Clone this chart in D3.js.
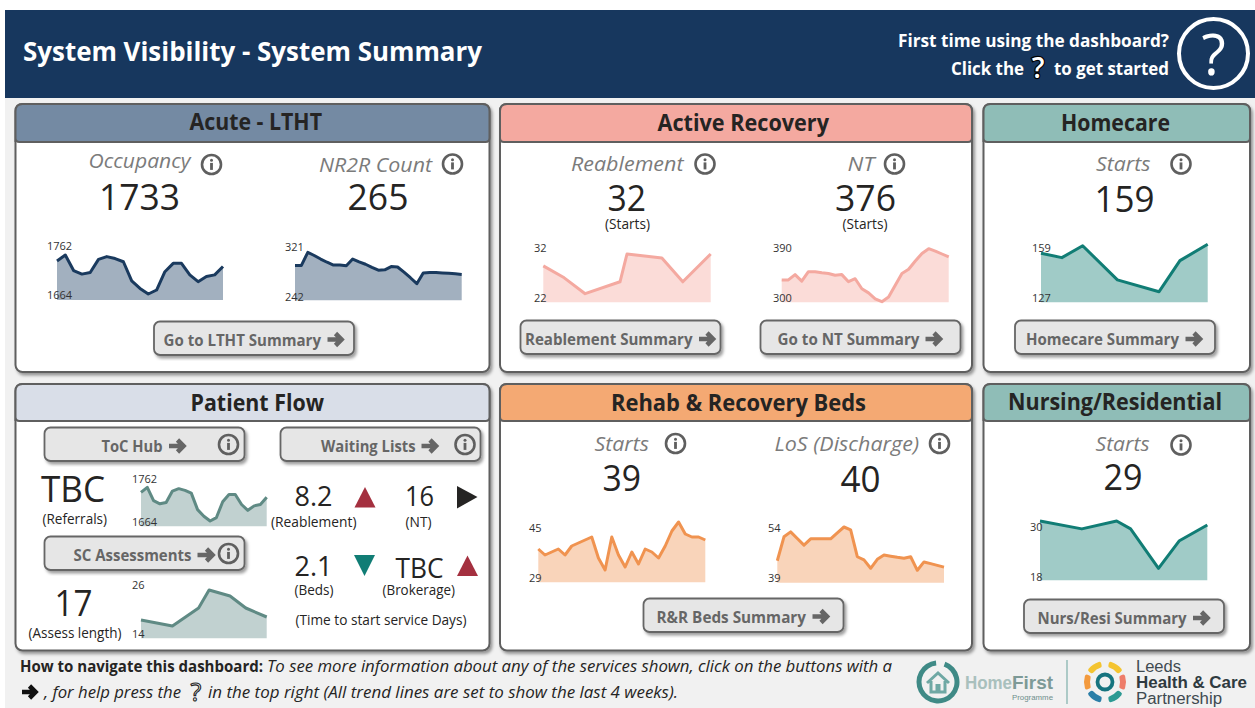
<!DOCTYPE html>
<html>
<head>
<meta charset="utf-8">
<title>System Visibility - System Summary</title>
<script src="https://cdn.jsdelivr.net/npm/d3@7"></script>
<style>
  html, body { margin: 0; padding: 0; background: #fff; overflow: hidden; }
  svg { display: block; font-family: "Open Sans", sans-serif; }
</style>
</head>
<body>
<div id="chart"></div>
<script>
// Trend values (last 4 weeks, day numbers where days are skipped)
const occupancyValues = [1747, 1762, 1723, 1714, 1718, 1751, 1758, 1753, 1745, 1697, 1678, 1664, 1674, 1720, 1741, 1741, 1712, 1695, 1708, 1712, 1733];
const nr2rValues = [288, 288, 321, 313, 304, 296, 289, 289, 287, 304, 297, 291, 283, 276, 277, 285, 284, 271, 257, 242, 269, 270, 270, 269, 268, 267, 265];
const reablementDays = [0, 3, 6, 11, 12, 17, 20, 24];
const reablementValues = [29, 26, 22, 25, 32, 31, 25, 32];
const ntValues = [337, 337, 346, 335, 351, 351, 349, 348, 345, 346, 334, 339, 322, 315, 305, 300, 308, 328, 348, 355, 369, 382, 390, 386, 381, 376];
const homecareDays = [0, 3, 6, 11, 17, 20, 24];
const homecareValues = [153, 150, 158, 135, 127, 148, 159];
const assessDays = [0, 6, 11, 13, 17, 20, 24];
const assessValues = [16, 14, 20, 26, 24, 20, 17];
const rrStartsValues = [36, 34, 35, 36, 34, 37, 38, 39, 40, 33, 29, 40, 34, 30, 35, 31, 36, 35, 33, 37, 42, 45, 41, 40, 40, 39];
const rrLosValues = [42.3, 50.6, 52.3, 50, 47.7, 49.9, 49.9, 49.9, 49.9, 52, 54, 53, 43.7, 42.6, 39.7, 42.8, 44.3, 43.9, 43.5, 43.2, 43.7, 39, 41.9, 41.3, 40.7, 40.1];
const nursingDays = [0, 6, 11, 13, 17, 20, 24];
const nursingValues = [30, 28, 30, 28, 18, 25, 29];

// Tick labels shown next to each trend [low, high]
const occupancyTicks = [1664, 1762];
const nr2rTicks = [242, 321];
const reablementTicks = [22, 32];
const ntTicks = [300, 390];
const homecareTicks = [127, 159];
const assessTicks = [14, 26];
const rrStartsTicks = [29, 45];
const rrLosTicks = [39, 54];
const nursingTicks = [18, 30];

const width = 1255;
const height = 708;
const darkText = "#252423";
const greyText = "#666";

const svg = d3.select("#chart")
  .append("svg")
  .attr("width", width)
  .attr("height", height);

const shadow = svg.append("defs").append("filter")
  .attr("id", "shadow")
  .attr("x", "-5%").attr("y", "-10%")
  .attr("width", "110%").attr("height", "125%");
shadow.append("feDropShadow")
  .attr("dx", 2).attr("dy", 2.5)
  .attr("stdDeviation", 1.8)
  .attr("flood-color", "#000")
  .attr("flood-opacity", 0.38);

// Text stretched between two x positions so it lines up with the picture
function label(t, x0, x1, base, size, opts = {}) {
  return svg.append("text")
    .attr("x", x0)
    .attr("y", base)
    .attr("textLength", x1 - x0)
    .attr("lengthAdjust", "spacingAndGlyphs")
    .attr("font-size", size)
    .attr("font-family", opts.family || null)
    .attr("font-weight", opts.weight || 400)
    .attr("font-style", opts.italic ? "italic" : "normal")
    .attr("fill", opts.fill || darkText)
    .text(t);
}

// Page background and top banner
svg.append("rect").attr("x", 5).attr("y", 10).attr("width", width - 5).attr("height", height - 10).attr("fill", "#f1f1f1");
svg.append("rect").attr("x", 5).attr("y", 10).attr("width", width - 5).attr("height", 88).attr("fill", "#17375e");
label("System Visibility - System Summary", 23, 482, 61, 27, { weight: 700, fill: "#fff" });
label("First time using the dashboard?", 898, 1169, 47, 17.5, { weight: 700, fill: "#fff" });
label("Click the", 951, 1024, 75, 17.5, { weight: 700, fill: "#fff" });
label("to get started", 1054, 1169, 75, 17.5, { weight: 700, fill: "#fff" });
svg.append("text").attr("x", 1038).attr("y", 78).attr("text-anchor", "middle")
  .attr("font-size", 28).attr("font-weight", 600).attr("fill", "#fff").attr("stroke", "#000").attr("stroke-width", 2.4)
  .attr("paint-order", "stroke").text("?");
svg.append("circle").attr("cx", 1213.5).attr("cy", 53.5).attr("r", 34.5)
  .attr("fill", "none").attr("stroke", "#fff").attr("stroke-width", 4);
svg.append("text").attr("x", 1213.5).attr("y", 75).attr("text-anchor", "middle")
  .attr("font-size", 56).attr("fill", "#fff").text("?");

// Cards
const cards = [
  { title: "Acute - LTHT", x: 15.5, y: 104, w: 474, h: 268, head: 38, fill: "#748aa3", tx0: 189.5, tx1: 322, base: 129.5 },
  { title: "Active Recovery", x: 500, y: 104, w: 472, h: 268, head: 38, fill: "#f4a9a0", tx0: 657.5, tx1: 829, base: 131 },
  { title: "Homecare", x: 983.5, y: 104, w: 266.5, h: 268, head: 38, fill: "#8fbdb7", tx0: 1061, tx1: 1170, base: 131 },
  { title: "Patient Flow", x: 15.5, y: 384, w: 474, h: 266.5, head: 37, fill: "#d9dee8", tx0: 190.5, tx1: 324, base: 411 },
  { title: "Rehab & Recovery Beds", x: 500, y: 384, w: 472, h: 266.5, head: 37, fill: "#f4a973", tx0: 611, tx1: 866, base: 411 },
  { title: "Nursing/Residential", x: 983.5, y: 384, w: 266.5, h: 266.5, head: 37, fill: "#8fbdb7", tx0: 1008, tx1: 1222, base: 409.5 }
];

cards.forEach(c => {
  svg.append("rect").attr("x", c.x).attr("y", c.y).attr("width", c.w).attr("height", c.h).attr("rx", 7)
    .attr("fill", "#fff").attr("stroke", "#5f5f5f").attr("stroke-width", 2).attr("filter", "url(#shadow)");
  svg.append("path")
    .attr("d", `M${c.x},${c.y + c.head} V${c.y + 7} Q${c.x},${c.y} ${c.x + 7},${c.y} H${c.x + c.w - 7} Q${c.x + c.w},${c.y} ${c.x + c.w},${c.y + 7} V${c.y + c.head - 4} Q${c.x + c.w},${c.y + c.head} ${c.x + c.w - 4},${c.y + c.head} H${c.x + 4} Q${c.x},${c.y + c.head} ${c.x},${c.y + c.head - 4}Z`)
    .attr("fill", c.fill).attr("stroke", "#5f5f5f").attr("stroke-width", 2);
  label(c.title, c.tx0, c.tx1, c.base, 23, { weight: 700 });
});

// Sparklines: values through x/y scales, ticks through an axis on their own label scale
const sparks = [
  { values: occupancyValues, ticks: occupancyTicks, x: [57, 223], y: [294, 255], base: 300, labelX: 47, labelY: [295, 246], line: "#1a3a5e", area: "#a2b0bf" },
  { values: nr2rValues, ticks: nr2rTicks, x: [295, 461.7], y: [283.7, 252.3], base: 300.3, labelX: 285, labelY: [297, 247], line: "#1a3a5e", area: "#a2b0bf" },
  { values: reablementValues, days: reablementDays, ticks: reablementTicks, x: [543.3, 710.7], y: [293.7, 254], base: 302.3, labelX: 534, labelY: [298, 248], line: "#f4a9a0", area: "#fbdcd8" },
  { values: ntValues, ticks: ntTicks, x: [781.7, 948.7], y: [301.7, 248.7], base: 302.3, labelX: 773, labelY: [298, 248], line: "#f4a9a0", area: "#fbdcd8" },
  { values: homecareValues, days: homecareDays, ticks: homecareTicks, x: [1041, 1207.7], y: [291.7, 244.3], base: 302.3, labelX: 1032, labelY: [298, 248], line: "#117d75", area: "#a0cbc7" },
  { values: occupancyValues, ticks: occupancyTicks, x: [141, 266.7], y: [521, 487.3], base: 526.3, labelX: 132, labelY: [522, 479], line: "#5f8a84", area: "#c1d1d0" },
  { values: assessValues, days: assessDays, ticks: assessTicks, x: [141, 266.7], y: [626, 590], base: 638.3, labelX: 132, labelY: [634, 585], line: "#5f8a84", area: "#c1d1d0" },
  { values: rrStartsValues, ticks: rrStartsTicks, x: [538.3, 705.3], y: [570, 522], base: 582.3, labelX: 529, labelY: [578, 527.5], line: "#f09350", area: "#f9d4ba" },
  { values: rrLosValues, ticks: rrLosTicks, x: [777.3, 944], y: [570.3, 527], base: 582.7, labelX: 768, labelY: [578, 528], line: "#f09350", area: "#f9d4ba" },
  { values: nursingValues, days: nursingDays, ticks: nursingTicks, x: [1040, 1207.3], y: [568.3, 521], base: 580.3, labelX: 1030, labelY: [577, 527], line: "#117d75", area: "#a0cbc7" }
];

sparks.forEach(s => {
  const days = s.days || d3.range(s.values.length);
  const xScale = d3.scaleLinear().domain([days[0], days[days.length - 1]]).range(s.x);
  const yScale = d3.scaleLinear().domain(s.ticks).range(s.y);
  const rows = s.values.map((v, i) => ({ day: days[i], value: v }));

  svg.append("path").datum(rows).attr("fill", s.area)
    .attr("d", d3.area().x(d => xScale(d.day)).y0(s.base).y1(d => yScale(d.value)));
  svg.append("path").datum(rows).attr("fill", "none").attr("stroke", s.line).attr("stroke-width", 3)
    .attr("stroke-linejoin", "round")
    .attr("d", d3.line().x(d => xScale(d.day)).y(d => yScale(d.value)));

  const labelScale = d3.scaleLinear().domain(s.ticks).range(s.labelY);
  const axis = svg.append("g")
    .attr("transform", `translate(${s.labelX}, 0)`)
    .call(d3.axisLeft(labelScale).tickValues(s.ticks).tickSize(0).tickPadding(0).tickFormat(d3.format("d")));
  axis.select(".domain").remove();
  axis.selectAll("text")
    .attr("text-anchor", "start")
    .attr("font-family", '"Open Sans", sans-serif')
    .attr("font-size", 11)
    .attr("fill", "#333");
});

// KPI titles
const kpiTitles = [
  ["Occupancy", 88.5, 190.5, 168], ["NR2R Count", 319, 432, 171.5],
  ["Reablement", 571, 683.5, 171], ["NT", 847.5, 874.5, 171],
  ["Starts", 1096, 1150.5, 170.5], ["Starts", 594.5, 649, 450.5],
  ["LoS (Discharge)", 774.5, 919, 451], ["Starts", 1095.5, 1149.5, 451]
];
kpiTitles.forEach(k => label(k[0], k[1], k[2], k[3], 20, { italic: true, weight: 400, fill: "#7b7b7b" }));

// Big numbers
const bigNumbers = [
  ["1733", 99, 180, 209.5, 36], ["265", 347.5, 408.5, 209.5, 36],
  ["32", 607.5, 646, 210.5, 36], ["376", 835, 896, 210.5, 36],
  ["159", 1094.5, 1154.5, 212, 36], ["39", 602.5, 641, 490.5, 36],
  ["40", 840.5, 880.5, 491.5, 36], ["29", 1103.5, 1142.5, 490, 36],
  ["TBC", 41, 105, 501.5, 36], ["17", 54.5, 92.5, 615.5, 36],
  ["8.2", 294.5, 332.5, 506, 28], ["16", 405, 434, 506, 28],
  ["2.1", 294.5, 332.5, 575.5, 28], ["TBC", 395.5, 443.5, 577.5, 28]
];
bigNumbers.forEach(n => label(n[0], n[1], n[2], n[3], n[4], { weight: 400 }));

// Small captions
const captions = [
  ["(Starts)", 605, 650, 229], ["(Starts)", 842.5, 887.5, 229],
  ["(Referrals)", 42.5, 107, 524], ["(Assess length)", 28.5, 121.5, 637.5],
  ["(Reablement)", 271, 356.5, 527], ["(NT)", 405.5, 431.5, 527],
  ["(Beds)", 294.5, 333.5, 595], ["(Brokerage)", 382.5, 455, 595],
  ["(Time to start service Days)", 295.5, 466.5, 625]
];
captions.forEach(c => label(c[0], c[1], c[2], c[3], 14));

function arrow(x0, x1, cy, color) {
  const headBack = x1 - 8.5;
  svg.append("path")
    .attr("d", `M${x0},${cy} H${x1 - 3} M${headBack},${cy - 6} L${x1 - 2.5},${cy} L${headBack},${cy + 6}`)
    .attr("fill", "none").attr("stroke", color).attr("stroke-width", 4.6);
}

// Buttons
const buttons = [
  { t: "Go to LTHT Summary", x: 154, y: 321.5, tx0: 163.5, tx1: 321, base: 345.5, ax0: 327.5, ax1: 344 },
  { t: "Reablement Summary", x: 520.5, y: 320.5, tx0: 525, tx1: 692.5, base: 345, ax0: 699, ax1: 715.5 },
  { t: "Go to NT Summary", x: 760.5, y: 320.5, tx0: 777.5, tx1: 919.5, base: 345, ax0: 925.5, ax1: 942.5 },
  { t: "Homecare Summary", x: 1015, y: 320.5, tx0: 1026, tx1: 1179, base: 345, ax0: 1185.5, ax1: 1202.5 },
  { t: "ToC Hub", x: 44.5, y: 427.5, tx0: 101.5, tx1: 162.5, base: 452, ax0: 169, ax1: 186 },
  { t: "Waiting Lists", x: 280.5, y: 427.5, tx0: 321, tx1: 415.5, base: 452, ax0: 421.5, ax1: 438.5 },
  { t: "SC Assessments", x: 44.5, y: 536.5, tx0: 73.5, tx1: 191.5, base: 561, ax0: 197.5, ax1: 215 },
  { t: "R&R Beds Summary", x: 643.5, y: 598.5, tx0: 656.5, tx1: 806, base: 622.5, ax0: 812.5, ax1: 829.5 },
  { t: "Nurs/Resi Summary", x: 1024, y: 599.5, tx0: 1037.5, tx1: 1186.5, base: 624, ax0: 1193, ax1: 1210 }
];
buttons.forEach(b => {
  svg.append("rect").attr("x", b.x).attr("y", b.y).attr("width", 200).attr("height", 33.5).attr("rx", 6)
    .attr("fill", "#e6e6e6").attr("stroke", "#666").attr("stroke-width", 1.8).attr("filter", "url(#shadow)");
  label(b.t, b.tx0, b.tx1, b.base, 16, { weight: 700, fill: greyText });
  arrow(b.ax0, b.ax1, b.base - 6, greyText);
});

// Info icons
const infoIcons = [
  [211.5, 164.5], [452.5, 164], [705, 164], [894.5, 164], [1181, 164],
  [675.5, 443.5], [939.5, 443.5], [1181, 445], [228.5, 444.5], [465, 444.5], [228.5, 553.5]
];
infoIcons.forEach(p => {
  const g = svg.append("g").attr("transform", `translate(${p[0]},${p[1]})`);
  g.append("circle").attr("r", 9.5).attr("fill", "none").attr("stroke", "#5f5f5f").attr("stroke-width", 2.6);
  g.append("circle").attr("cy", -4.2).attr("r", 1.5).attr("fill", "#5f5f5f");
  g.append("rect").attr("x", -1.4).attr("y", -1.6).attr("width", 2.8).attr("height", 7).attr("fill", "#5f5f5f");
});

// Direction markers
const markers = [
  { pts: [[354.5, 507.5], [365, 487], [375.5, 507.5]], fill: "#a4303f" },
  { pts: [[457, 486], [477.5, 497], [457, 508.5]], fill: darkText },
  { pts: [[354, 555], [375, 555], [364.5, 576]], fill: "#117d75" },
  { pts: [[457, 576], [467.5, 555.5], [478, 576]], fill: "#a4303f" }
];
markers.forEach(m => svg.append("path").attr("d", d3.line()(m.pts) + "Z").attr("fill", m.fill));

// Footer
label("How to navigate this dashboard:", 20, 263, 672, 16, { weight: 700 });
label("To see more information about any of the services shown, click on the buttons with a", 267, 892, 672, 16, { italic: true });
arrow(22, 38, 692, "#111");
label(", for help press the", 44, 181, 698, 16, { italic: true });
svg.append("text").attr("x", 196).attr("y", 701).attr("text-anchor", "middle")
  .attr("font-size", 25).attr("fill", "#fff").attr("stroke", "#222").attr("stroke-width", 1.1).text("?");
label("in the top right (All trend lines are set to show the last 4 weeks).", 208, 678, 698, 16, { italic: true });

// HomeFirst logo
const logoFont = '"Liberation Sans", sans-serif';
const homeArc = d3.arc().innerRadius(16.5).outerRadius(21.5);
const homeLogo = svg.append("g").attr("transform", "translate(938,682)");
homeLogo.append("path").attr("fill", "#3f8a86")
  .attr("d", homeArc({ startAngle: 0.35, endAngle: 2 * Math.PI - 0.1 }));
homeLogo.append("path").attr("fill", "none").attr("stroke", "#6fa8a4").attr("stroke-width", 3)
  .attr("d", "M-11,1 L0,-9 L11,1 M-7,-1 V10 H7 V-1");
homeLogo.append("rect").attr("x", -2.5).attr("y", 2).attr("width", 5).attr("height", 8).attr("fill", "#6fa8a4");
label("Home", 965, 1012, 689, 19, { fill: "#a9c0bd", weight: 700, family: logoFont });
label("First", 1012, 1053, 689, 19, { fill: "#7d9a97", weight: 700, family: logoFont });
label("Programme", 1012, 1053, 700, 8, { fill: "#6f8f8c", family: logoFont });
svg.append("line").attr("x1", 1067).attr("x2", 1067).attr("y1", 660).attr("y2", 704)
  .attr("stroke", "#7fb0ab").attr("stroke-width", 1.2);

// Leeds partnership mark
const leedsLogo = svg.append("g").attr("transform", "translate(1105,682)");
leedsLogo.append("circle").attr("r", 7.5).attr("fill", "none").attr("stroke", "#16747f").attr("stroke-width", 3.8);
const petals = [
  { a: -0.6, c: "#f4c430" }, { a: 0.6, c: "#f4c430" },
  { a: Math.PI / 2, c: "#ee7d6a" }, { a: Math.PI - 0.6, c: "#2c9a93" },
  { a: Math.PI + 0.6, c: "#2b7fa8" }, { a: -Math.PI / 2, c: "#f39a3d" }
];
const petalArc = d3.arc().innerRadius(15).outerRadius(21).cornerRadius(2);
petals.forEach(p => {
  leedsLogo.append("path").attr("fill", p.c)
    .attr("d", petalArc({ startAngle: p.a - 0.4, endAngle: p.a + 0.4 }));
});
label("Leeds", 1136, 1181, 672, 16, { fill: "#3f4a50", family: logoFont });
label("Health & Care", 1136, 1247, 688, 16, { weight: 700, fill: "#2f3a40", family: logoFont });
label("Partnership", 1136, 1222, 704, 16, { fill: "#3f4a50", family: logoFont });
</script>
</body>
</html>
